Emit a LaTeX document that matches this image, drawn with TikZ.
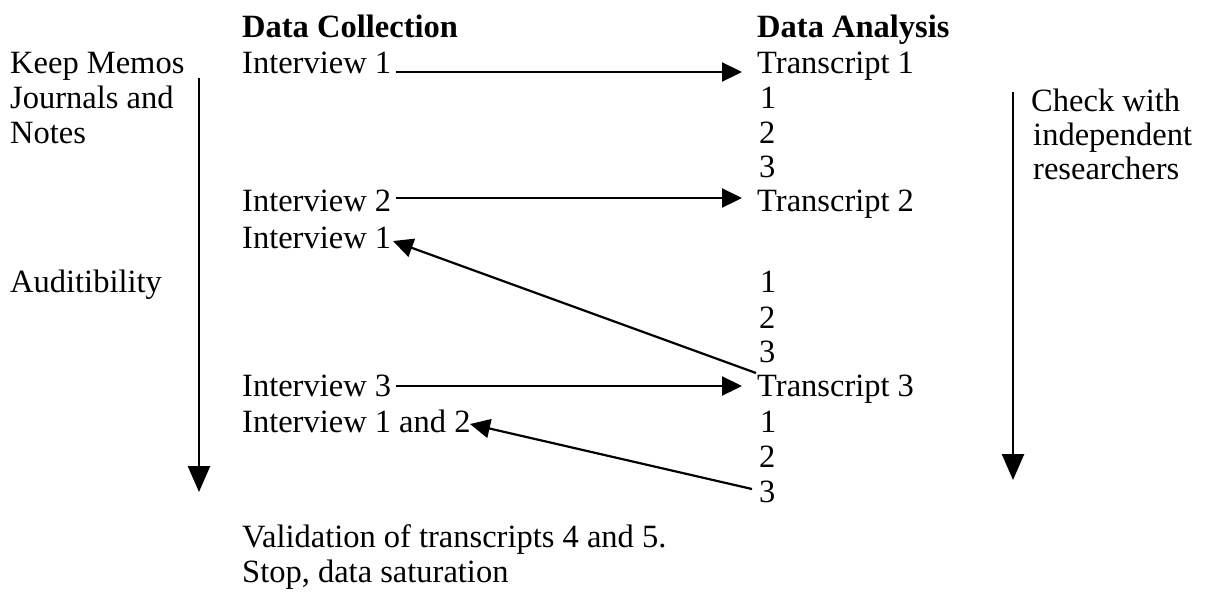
\documentclass[tikz,border=0pt]{standalone}
\usepackage{fontspec}
\setmainfont{Liberation Serif}
\usetikzlibrary{arrows.meta}
\begin{document}
\begin{tikzpicture}[x=1pt,y=-1pt,
  txt/.style={anchor=base west,inner sep=0pt,font=\fontsize{32.5}{36}\selectfont},
  head/.style={txt,font=\fontsize{32.5}{36}\selectfont\bfseries},
  arr/.style={line width=2.2pt,-{Triangle[length=20pt,width=19pt]}},
  vline/.style={line width=2.6pt,-{Triangle[length=26pt,width=22pt]}}]
\useasboundingbox (0,0) rectangle (1214,592);
% headings
\node[head] (hc) at (242,37) {Data Collection};
\node[head] (ha) at (757,37) {Data Analysis};
% left notes
\node[txt] (km) at (10,73) {Keep Memos};
\node[txt] (jn) at (10,108) {Journals and};
\node[txt] (nt) at (10,143) {Notes};
\node[txt] (au) at (10,292) {Auditibility};
% right notes
\node[txt] (cw) at (1031,111) {Check with};
\node[txt] (ind) at (1033,145) {independent};
\node[txt] (res) at (1033,179) {researchers};
% data collection column
\node[txt] (i1) at (242,73) {Interview 1};
\node[txt] (i2) at (242,211) {Interview 2};
\node[txt] (i1b) at (242,248) {Interview 1};
\node[txt] (i3) at (242,396) {Interview 3};
\node[txt] (i12) at (242,432) {Interview 1 and 2};
\node[txt] (val) at (242,547) {Validation of transcripts 4 and 5.};
\node[txt] (stop) at (242,582) {Stop, data saturation};
% data analysis column
\node[txt] (t1) at (757,73) {Transcript 1};
\node[txt] (a11) at (760,108) {1};
\node[txt] (a12) at (759,143) {2};
\node[txt] (a13) at (759,177) {3};
\node[txt] (t2) at (757,211) {Transcript 2};
\node[txt] (a21) at (760,292) {1};
\node[txt] (a22) at (759,328) {2};
\node[txt] (a23) at (759,362) {3};
\node[txt] (t3) at (757,396) {Transcript 3};
\node[txt] (a31) at (760,432) {1};
\node[txt] (a32) at (759,467) {2};
\node[txt] (a33) at (759,502) {3};
% connector end points
\coordinate (s1) at (396,72);
\coordinate (e1) at (742,72);
\coordinate (s2) at (396,198);
\coordinate (e2) at (742,198);
\coordinate (s3) at (396,386);
\coordinate (e3) at (742,386);
\coordinate (b1s) at (756,373);
\coordinate (b1e) at (393,241);
\coordinate (b2s) at (752,489);
\coordinate (b2e) at (470,424);
\coordinate (ltop) at (199,78);
\coordinate (lbot) at (199,492);
\coordinate (rtop) at (1013,92);
\coordinate (rbot) at (1013,480);
% connectors
\draw[arr] (s1) -- (e1);
\draw[arr] (s2) -- (e2);
\draw[arr] (s3) -- (e3);
\draw[arr] (b1s) -- (b1e);
\draw[arr] (b2s) -- (b2e);
\draw[vline] (ltop) -- (lbot);
\draw[vline] (rtop) -- (rbot);
\end{tikzpicture}
\end{document}
